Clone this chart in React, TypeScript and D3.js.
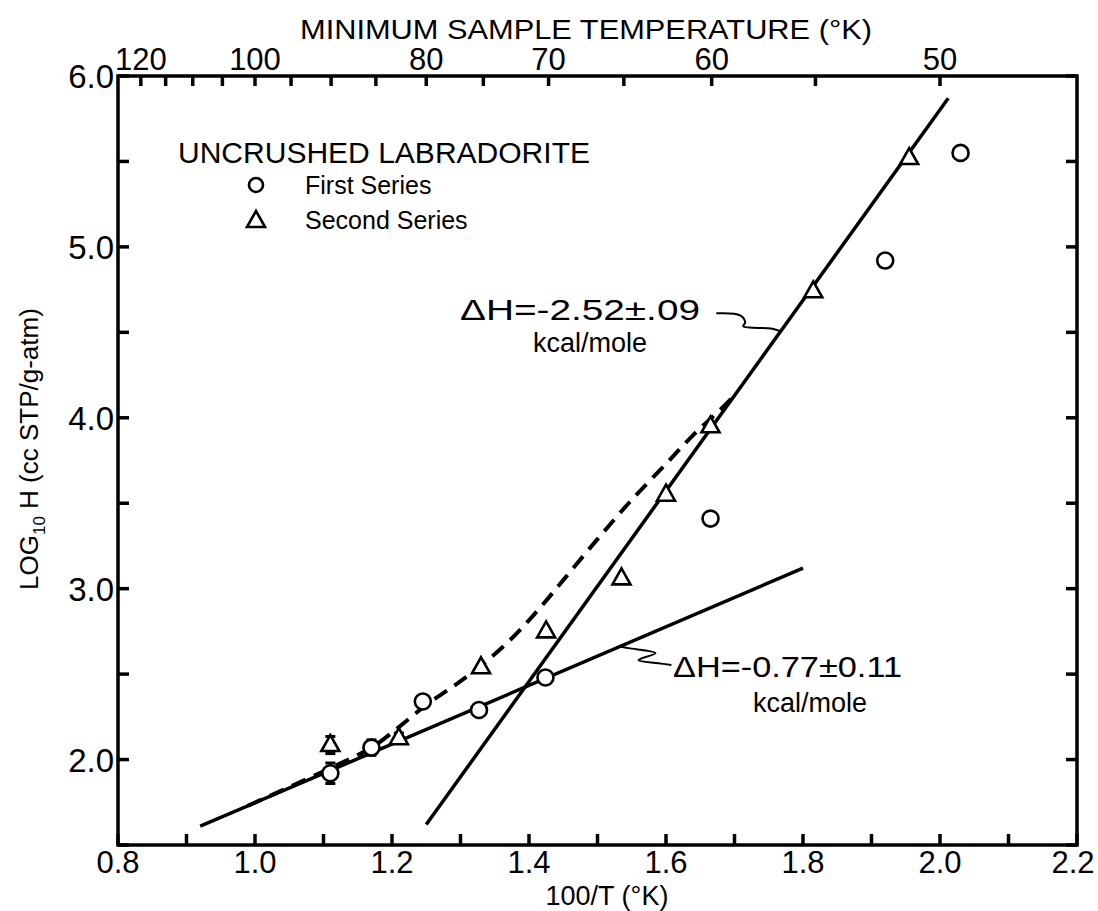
import React, { useRef, useEffect } from "react";
import * as d3 from "d3";

const width = 1098;
const height = 911;
const font = "'Liberation Sans', Arial, sans-serif";

// first series (circles): 100/T, log10 H
const firstX = [1.11, 1.17, 1.245, 1.327, 1.424, 1.665, 1.92, 2.03];
const firstY = [1.92, 2.07, 2.34, 2.29, 2.48, 3.41, 4.92, 5.55];
const firstErr = [0.06, 0.045, 0, 0, 0, 0, 0, 0];

// second series (triangles)
const secondX = [1.11, 1.21, 1.33, 1.425, 1.535, 1.6, 1.665, 1.815, 1.955];
const secondY = [2.085, 2.125, 2.54, 2.75, 3.06, 3.55, 3.95, 4.74, 5.52];
const secondErr = [0.05, 0.03, 0, 0, 0, 0, 0, 0, 0];

// fitted lines
const lowFit = [[0.92, 1.61], [1.8, 3.12]];
const steepFit = [[1.25, 1.62], [2.012, 5.87]];
const dashedX = [0.99, 1.11, 1.17, 1.21, 1.25, 1.29, 1.33, 1.37, 1.41, 1.45, 1.5, 1.55, 1.6, 1.64, 1.68, 1.7];
const dashedY = [1.73, 1.95, 2.07, 2.19, 2.32, 2.43, 2.55, 2.69, 2.86, 3.05, 3.29, 3.52, 3.73, 3.9, 4.05, 4.13];

// leader squiggles for the annotations
const leaderA = [[1.6734, 4.611], [1.7083, 4.599], [1.7156, 4.558], [1.7127, 4.535], [1.7534, 4.522], [1.7665, 4.508]];
const leaderB = [[1.6079, 2.553], [1.5889, 2.564], [1.5598, 2.582], [1.5846, 2.623], [1.5453, 2.652], [1.5336, 2.662]];

const xTicks = d3.range(0.8, 2.2001, 0.1);
const xLabels = [0.8, 1.0, 1.2, 1.4, 1.6, 1.8, 2.0, 2.2];
const yTicks = d3.range(1.5, 6.0001, 0.5);
const yLabels = [2.0, 3.0, 4.0, 5.0, 6.0];
const tTicks = d3.range(120, 49, -5);
const tLabels = [120, 100, 80, 70, 60, 50];

const App = () => {
  const ref = useRef();

  useEffect(() => {
    const svg = d3.select(ref.current);
    svg.selectAll("*").remove();

    const x = d3.scaleLinear().domain([0.8, 2.2]).range([118, 1077]);
    const y = d3.scaleLinear().domain([1.5, 6.0]).range([845, 76]);
    const [x0, x1] = x.range();
    const [y0, y1] = y.range();

    const g = svg.append("g");

    // frame
    g.append("rect")
      .attr("x", x0).attr("y", y1)
      .attr("width", x1 - x0).attr("height", y0 - y1)
      .attr("fill", "none").attr("stroke", "#000").attr("stroke-width", 3.5);

    // bottom ticks
    g.selectAll(".xt").data(xTicks).enter().append("line")
      .attr("x1", (d) => x(d)).attr("x2", (d) => x(d))
      .attr("y1", y0).attr("y2", y0 - 11)
      .attr("stroke", "#000").attr("stroke-width", 3.5);
    g.selectAll(".xl").data(xLabels).enter().append("text")
      .attr("x", (d) => Math.min(x(d), 1073)).attr("y", y0 + 28)
      .attr("text-anchor", "middle")
      .attr("font-family", font).attr("font-size", 31)
      .text((d) => d.toFixed(1));

    // left and right ticks
    g.selectAll(".yt").data(yTicks).enter().append("line")
      .attr("x1", x0).attr("x2", x0 + 11)
      .attr("y1", (d) => y(d)).attr("y2", (d) => y(d))
      .attr("stroke", "#000").attr("stroke-width", 3.5);
    g.selectAll(".ytr").data(yTicks).enter().append("line")
      .attr("x1", x1).attr("x2", x1 - 11)
      .attr("y1", (d) => y(d)).attr("y2", (d) => y(d))
      .attr("stroke", "#000").attr("stroke-width", 3.5);
    g.selectAll(".yl").data(yLabels).enter().append("text")
      .attr("x", x0 - 4).attr("y", (d) => y(d) + 12)
      .attr("text-anchor", "end")
      .attr("font-family", font).attr("font-size", 33)
      .text((d) => d.toFixed(1));

    // top temperature axis
    g.selectAll(".tt").data(tTicks).enter().append("line")
      .attr("x1", (d) => x(100 / d)).attr("x2", (d) => x(100 / d))
      .attr("y1", y1).attr("y2", y1 + 10)
      .attr("stroke", "#000").attr("stroke-width", 3.5);
    g.selectAll(".tl").data(tLabels).enter().append("text")
      .attr("x", (d) => x(100 / d)).attr("y", y1 - 6)
      .attr("text-anchor", "middle")
      .attr("font-family", font).attr("font-size", 31)
      .text((d) => d);

    g.append("text")
      .attr("x", 300).attr("y", 39)
      .attr("font-family", font).attr("font-size", 28)
      .attr("textLength", 572).attr("lengthAdjust", "spacingAndGlyphs")
      .text("MINIMUM SAMPLE TEMPERATURE (°K)");

    g.append("text")
      .attr("x", 607).attr("y", 905)
      .attr("text-anchor", "middle")
      .attr("font-family", font).attr("font-size", 27)
      .text("100/T (°K)");

    const yl = g.append("text")
      .attr("transform", `translate(38, 590) rotate(-90)`)
      .attr("font-family", font).attr("font-size", 26);
    yl.append("tspan").text("LOG");
    yl.append("tspan").attr("font-size", 17).attr("dy", 7).text("10");
    yl.append("tspan").attr("dy", -7).text(" H (cc STP/g-atm)");

    // lines
    const line = d3.line().x((d) => x(d[0])).y((d) => y(d[1]));
    g.append("path").attr("d", line(lowFit))
      .attr("fill", "none").attr("stroke", "#000").attr("stroke-width", 3.5);
    g.append("path").attr("d", line(steepFit))
      .attr("fill", "none").attr("stroke", "#000").attr("stroke-width", 3.5);
    const dashed = dashedX.map((d, i) => [d, dashedY[i]]);
    g.append("path").attr("d", line.curve(d3.curveCatmullRom)(dashed))
      .attr("fill", "none").attr("stroke", "#000").attr("stroke-width", 4)
      .attr("stroke-dasharray", "15 9");

    const leader = d3.line().x((d) => x(d[0])).y((d) => y(d[1])).curve(d3.curveCatmullRom);
    [leaderA, leaderB].forEach((l) => {
      g.append("path").attr("d", leader(l))
        .attr("fill", "none").attr("stroke", "#000").attr("stroke-width", 2);
    });

    // error bars
    const errBars = (xs, ys, es) => {
      xs.forEach((d, i) => {
        if (!es[i]) return;
        g.append("line")
          .attr("x1", x(d)).attr("x2", x(d))
          .attr("y1", y(ys[i] - es[i])).attr("y2", y(ys[i] + es[i]))
          .attr("stroke", "#000").attr("stroke-width", 2.5);
        [ys[i] - es[i], ys[i] + es[i]].forEach((v) => {
          g.append("line")
            .attr("x1", x(d) - 5).attr("x2", x(d) + 5)
            .attr("y1", y(v)).attr("y2", y(v))
            .attr("stroke", "#000").attr("stroke-width", 3);
        });
      });
    };
    errBars(firstX, firstY, firstErr);
    errBars(secondX, secondY, secondErr);

    // markers
    g.selectAll(".c1").data(firstX).enter().append("circle")
      .attr("cx", (d) => x(d)).attr("cy", (d, i) => y(firstY[i]))
      .attr("r", 8).attr("fill", "#fff").attr("stroke", "#000").attr("stroke-width", 2.6);
    const tri = "M0,-10L9,6L-9,6Z";
    g.selectAll(".t2").data(secondX).enter().append("path")
      .attr("d", tri)
      .attr("transform", (d, i) => `translate(${x(d)},${y(secondY[i])})`)
      .attr("fill", "#fff").attr("stroke", "#000").attr("stroke-width", 2.6);

    // legend
    g.append("text").attr("x", 178).attr("y", 163)
      .attr("font-family", font).attr("font-size", 30)
      .attr("textLength", 412).attr("lengthAdjust", "spacingAndGlyphs")
      .text("UNCRUSHED LABRADORITE");
    g.append("circle").attr("cx", 256).attr("cy", 185).attr("r", 7)
      .attr("fill", "#fff").attr("stroke", "#000").attr("stroke-width", 2.6);
    g.append("path").attr("d", tri).attr("transform", "translate(256,221)")
      .attr("fill", "#fff").attr("stroke", "#000").attr("stroke-width", 2.6);
    g.append("text").attr("x", 305).attr("y", 194)
      .attr("font-family", font).attr("font-size", 25).text("First Series");
    g.append("text").attr("x", 305).attr("y", 229)
      .attr("font-family", font).attr("font-size", 25).text("Second Series");

    // annotations
    g.append("text").attr("x", 460).attr("y", 320)
      .attr("font-family", font).attr("font-size", 30)
      .attr("textLength", 240).attr("lengthAdjust", "spacingAndGlyphs")
      .text("ΔH=-2.52±.09");
    g.append("text").attr("x", 533).attr("y", 352)
      .attr("font-family", font).attr("font-size", 27)
      .text("kcal/mole");
    g.append("text").attr("x", 673).attr("y", 677)
      .attr("font-family", font).attr("font-size", 30)
      .attr("textLength", 229).attr("lengthAdjust", "spacingAndGlyphs")
      .text("ΔH=-0.77±0.11");
    g.append("text").attr("x", 753).attr("y", 712)
      .attr("font-family", font).attr("font-size", 27)
      .text("kcal/mole");
  }, []);

  return (
    <svg
      ref={ref}
      width={width}
      height={height}
      style={{ position: "absolute", left: 0, top: 0, background: "#fff" }}
    ></svg>
  );
};

export default App;
